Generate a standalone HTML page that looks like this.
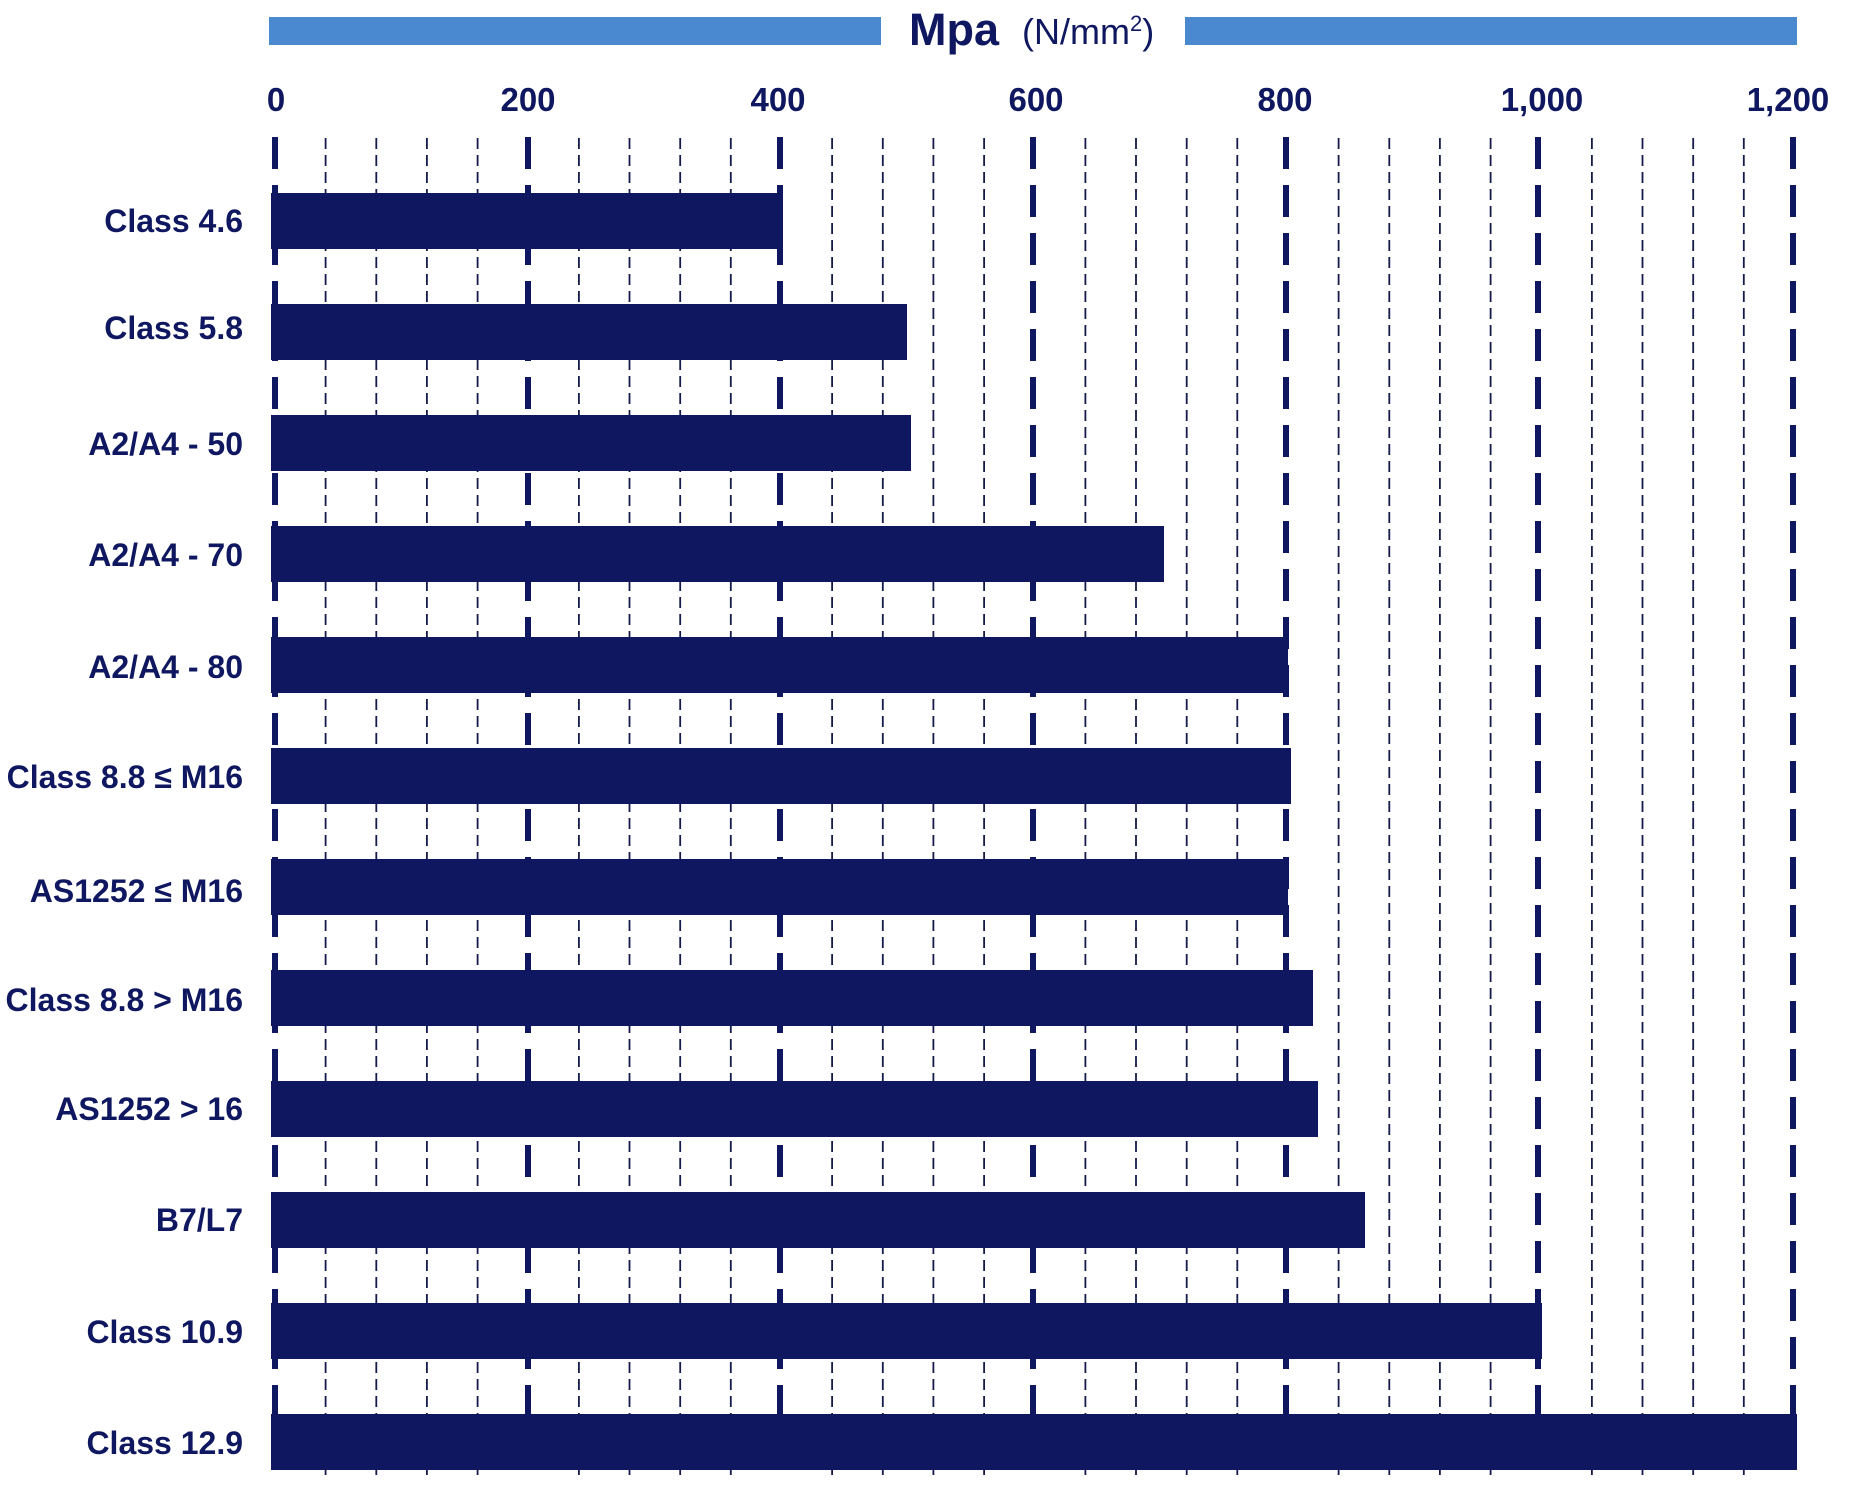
<!DOCTYPE html>
<html><head><meta charset="utf-8"><style>
html,body{margin:0;padding:0;background:#fff;}
svg{display:block;}
text{font-family:"Liberation Sans",sans-serif;fill:#0f1760;}
</style></head><body>
<svg width="1850" height="1486" viewBox="0 0 1850 1486" xmlns="http://www.w3.org/2000/svg">
<rect x="269" y="17" width="612" height="28" fill="#4a88d0"/>
<rect x="1185" y="17" width="612" height="28" fill="#4a88d0"/>
<text x="909" y="45" font-size="45" font-weight="bold">Mpa</text>
<text x="1022" y="44" font-size="36">(N/mm<tspan font-size="22" dy="-13">2</tspan><tspan dy="13">)</tspan></text>
<g font-size="33" font-weight="bold" text-anchor="middle">
<text x="276" y="111">0</text><text x="528" y="111">200</text><text x="778" y="111">400</text><text x="1036" y="111">600</text><text x="1285" y="111">800</text><text x="1542" y="111">1,000</text><text x="1788" y="111">1,200</text>
</g>
<g stroke="#141a4a" stroke-width="1.8" stroke-dasharray="11,6">
<line x1="325.6" y1="138" x2="325.6" y2="1476"/><line x1="376.3" y1="138" x2="376.3" y2="1476"/><line x1="426.9" y1="138" x2="426.9" y2="1476"/><line x1="477.6" y1="138" x2="477.6" y2="1476"/>
<line x1="578.9" y1="138" x2="578.9" y2="1476"/><line x1="629.5" y1="138" x2="629.5" y2="1476"/><line x1="680.2" y1="138" x2="680.2" y2="1476"/><line x1="730.8" y1="138" x2="730.8" y2="1476"/>
<line x1="832.1" y1="138" x2="832.1" y2="1476"/><line x1="882.8" y1="138" x2="882.8" y2="1476"/><line x1="933.4" y1="138" x2="933.4" y2="1476"/><line x1="984.1" y1="138" x2="984.1" y2="1476"/>
<line x1="1085.4" y1="138" x2="1085.4" y2="1476"/><line x1="1136" y1="138" x2="1136" y2="1476"/><line x1="1186.7" y1="138" x2="1186.7" y2="1476"/><line x1="1237.3" y1="138" x2="1237.3" y2="1476"/>
<line x1="1338.6" y1="138" x2="1338.6" y2="1476"/><line x1="1389.3" y1="138" x2="1389.3" y2="1476"/><line x1="1439.9" y1="138" x2="1439.9" y2="1476"/><line x1="1490.6" y1="138" x2="1490.6" y2="1476"/>
<line x1="1591.9" y1="138" x2="1591.9" y2="1476"/><line x1="1642.5" y1="138" x2="1642.5" y2="1476"/><line x1="1693.2" y1="138" x2="1693.2" y2="1476"/><line x1="1743.8" y1="138" x2="1743.8" y2="1476"/>
</g>
<g stroke="#0f1760" stroke-width="6" stroke-dasharray="32,16">
<line x1="275" y1="137" x2="275" y2="1476"/><line x1="528" y1="137" x2="528" y2="1476"/><line x1="780" y1="137" x2="780" y2="1476"/><line x1="1033" y1="137" x2="1033" y2="1476"/><line x1="1286" y1="137" x2="1286" y2="1476"/><line x1="1538" y1="137" x2="1538" y2="1476"/><line x1="1793" y1="137" x2="1793" y2="1476"/>
</g>
<g fill="#0f1760">
<rect x="271" y="193" width="512" height="56"/>
<rect x="271" y="304" width="636" height="56"/>
<rect x="271" y="415" width="640" height="56"/>
<rect x="271" y="526" width="893" height="56"/>
<rect x="271" y="637" width="1017" height="56"/>
<rect x="271" y="748" width="1020" height="56"/>
<rect x="271" y="859" width="1017" height="56"/>
<rect x="271" y="970" width="1042" height="56"/>
<rect x="271" y="1081" width="1047" height="56"/>
<rect x="271" y="1192" width="1094" height="56"/>
<rect x="271" y="1303" width="1271" height="56"/>
<rect x="271" y="1414" width="1526" height="56"/>
</g>
<g font-size="32" font-weight="bold" text-anchor="end">
<text x="243" y="232">Class 4.6</text>
<text x="243" y="339">Class 5.8</text>
<text x="243" y="455">A2/A4 - 50</text>
<text x="243" y="566">A2/A4 - 70</text>
<text x="243" y="678">A2/A4 - 80</text>
<text x="243" y="788">Class 8.8 ≤ M16</text>
<text x="243" y="902">AS1252 ≤ M16</text>
<text x="243" y="1011">Class 8.8 &gt; M16</text>
<text x="243" y="1120">AS1252 &gt; 16</text>
<text x="243" y="1231">B7/L7</text>
<text x="243" y="1343">Class 10.9</text>
<text x="243" y="1454">Class 12.9</text>
</g>
</svg>
</body></html>
